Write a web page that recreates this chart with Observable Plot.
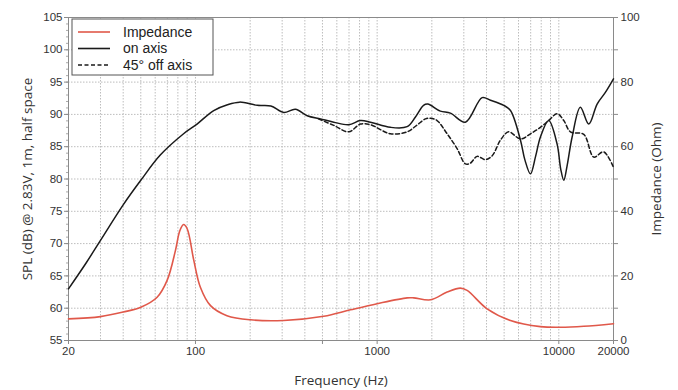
<!DOCTYPE html>
<html><head><meta charset="utf-8">
<script src="https://cdn.jsdelivr.net/npm/d3@7"></script>
<script src="https://cdn.jsdelivr.net/npm/@observablehq/plot@0.6"></script>
<style>
body{margin:0;background:#fff;}
g[aria-label="x-axis label"] text, g[aria-label="y-axis label"] text {font-family:"Open Sans";font-size:13.5px;fill:#333;}
</style></head><body><div id="chart"></div>
<script>
// On-axis SPL (dB)
const onFreq = [20,25,30,40,50,64,86,102,126,150,175,219,260,306,355,412,488,577,698,809,919,1183,1462,1625,1800,1900,2228,2530,3059,3782,4202,4972,5418,6152,6500,6980,7450,7922,8795,9787,10250,10650,11100,11840,13140,14620,16250,18040,20000];
const onSpl  = [63.0,67.0,70.5,76.0,79.8,83.7,87.0,88.5,90.6,91.5,91.9,91.4,91.3,90.3,90.8,89.8,89.3,88.8,88.4,89.05,88.8,88.0,88.1,89.6,91.4,91.6,90.5,90.2,88.8,92.6,92.2,91.4,90.6,86.0,83.0,80.8,83.5,86.5,89.05,85.4,81.5,79.8,82.0,86.5,91.1,88.5,91.6,93.4,95.5];
// 45° off axis SPL (dB)
const offFreq = [475,577,698,809,919,1183,1462,1650,1846,1970,2137,2428,2755,3059,3259,3549,3945,4298,4768,5291,6152,6980,7922,8795,9787,10650,11590,13720,15560,17650,20000];
const offSpl  = [89.3,88.3,87.3,88.5,88.4,87.0,87.3,88.3,89.3,89.4,89.05,87.0,84.7,82.35,82.45,83.5,83.0,83.6,86.0,87.3,86.2,87.0,88.0,89.05,90.1,89.05,87.3,86.9,83.4,84.2,81.8];
// Impedance (Ohm)
const impFreq = [20,30,40,50,61.5,69.8,77.6,82,86,90,97.9,106.4,121,149,201,306,508,713,1000,1462,1589,1970,2428,2871,3127,4030,5418,7922,10200,13720,20000];
const impOhm  = [6.7,7.4,8.8,10.3,13.4,18.6,27.9,34.0,35.9,34.6,24.8,16.5,10.8,7.7,6.4,6.2,7.5,9.5,11.4,13.2,13.2,12.6,15.0,16.2,15.5,9.8,6.2,4.3,4.1,4.4,5.2];

const gridFreqs = [20,30,40,50,60,70,80,90,100,200,300,400,500,600,700,800,900,1000,2000,3000,4000,5000,6000,7000,8000,9000,10000,20000];
const xTickLabels = [20,100,500,1000,10000,20000];
const splTicks = d3.range(55,106,5);
const splMinor = d3.range(55,106,1);
const legendItems = [
  {label:"Impedance", color:"#e0584a", dash:null},
  {label:"on axis", color:"#1a1a1a", dash:null},
  {label:"45° off axis", color:"#1a1a1a", dash:"4,2.5"}
];

const ohmToSpl = o => 55 + o/2;
const onData = d3.zip(onFreq, onSpl);
const offData = d3.zip(offFreq, offSpl);
const impData = d3.zip(impFreq, impOhm.map(ohmToSpl));

const chart = Plot.plot({
  width: 678, height: 390,
  marginLeft: 68, marginRight: 65, marginTop: 17, marginBottom: 50,
  style: {fontFamily: "Liberation Sans, Arial, sans-serif", fontSize: "11.5px", color: "#333", background: "#fff"},
  x: {type: "log", domain: [20, 20000]},
  y: {domain: [55, 105]},
  marks: [
    Plot.gridX(gridFreqs, {stroke: "#bdbdbd", strokeOpacity: 1, strokeDasharray: "1.5,1.5"}),
    Plot.gridY(splTicks, {stroke: "#bdbdbd", strokeOpacity: 1, strokeDasharray: "1.5,1.5"}),
    Plot.frame({stroke: "#8a8a8a"}),
    Plot.axisX(xTickLabels, {tickFormat: d => String(d), tickSize: 4, tickPadding: 2, stroke: "#8a8a8a",
      label: "Frequency (Hz)", labelAnchor: "center", labelArrow: "none", labelOffset: 44}),
    Plot.axisY(splMinor, {anchor: "left", tickSize: 2, tickFormat: () => "", stroke: "#aaa", label: null}),
    Plot.axisY(splTicks, {anchor: "left", tickSize: 4, tickPadding: 2, stroke: "#8a8a8a",
      label: "SPL (dB) @ 2.83V, 1m, half space", labelAnchor: "center", labelArrow: "none", labelOffset: 46}),
    Plot.axisY(splTicks, {anchor: "right", tickSize: 4, tickPadding: 3, stroke: "#8a8a8a",
      tickFormat: d => ((d-55)*2) % 20 === 0 ? String((d-55)*2) : "",
      label: "Impedance (Ohm)", labelAnchor: "center", labelArrow: "none", labelOffset: 47}),
    Plot.line(impData, {x: d => d[0], y: d => d[1], stroke: "#e0584a", strokeWidth: 1.6, curve: "catmull-rom"}),
    Plot.line(offData, {x: d => d[0], y: d => d[1], stroke: "#1a1a1a", strokeWidth: 1.5, strokeDasharray: "4,2.5", curve: "catmull-rom"}),
    Plot.line(onData, {x: d => d[0], y: d => d[1], stroke: "#1a1a1a", strokeWidth: 1.5, curve: "catmull-rom"})
  ]
});
document.getElementById("chart").appendChild(chart);

// legend box inside plot area (top-left)
const svg = d3.select(chart);
const lg = svg.append("g").attr("transform", "translate(72,19)");
lg.append("rect").attr("width", 141).attr("height", 56).attr("fill", "#fff").attr("stroke", "#555");
legendItems.forEach((it, i) => {
  const y = 13 + i*16.5;
  const ln = lg.append("line").attr("x1", 6).attr("x2", 38).attr("y1", y).attr("y2", y)
    .attr("stroke", it.color).attr("stroke-width", 1.6);
  if (it.dash) ln.attr("stroke-dasharray", it.dash);
  lg.append("text").attr("x", 51).attr("y", y).attr("dy", "0.35em").attr("text-anchor", "start")
    .attr("font-family", "Liberation Sans, Arial, sans-serif").attr("font-size", 14).attr("fill", "#222").text(it.label);
});
</script></body></html>
